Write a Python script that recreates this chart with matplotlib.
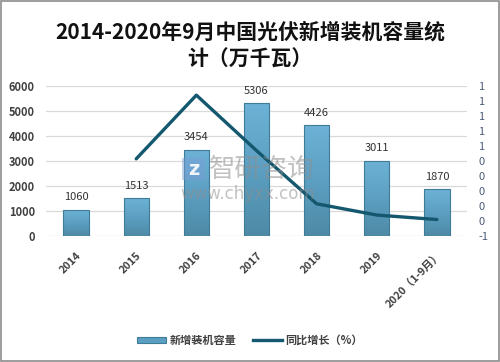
import matplotlib
matplotlib.use("Agg")
import matplotlib.pyplot as plt
import numpy as np
from matplotlib.ticker import FuncFormatter
from matplotlib.patches import Rectangle
from matplotlib.lines import Line2D
from matplotlib.colors import LinearSegmentedColormap

plt.rcParams['font.family'] = ['Noto Sans CJK SC', 'DejaVu Sans']

categories = ['2014', '2015', '2016', '2017', '2018', '2019', '2020（1-9月）']
capacity = [1060, 1513, 3454, 5306, 4426, 3011, 1870]
growth_idx = [1, 2, 3, 4, 5, 6]
growth = [0.43, 1.28, 0.54, -0.17, -0.32, -0.38]

title = '2014-2020年9月中国光伏新增装机容量统\n计（万千瓦）'
bar_label = '新增装机容量'
line_label = '同比增长（%）'

bar_color = '#5A9EC2'
bar_edge = '#3F7C98'
line_color = '#14586F'
grid_color = '#D9D9D9'
text_color = '#404040'

fig = plt.figure(figsize=(5.0, 3.62), dpi=100)
fig.patch.set_facecolor('white')
fig.patches.append(Rectangle((0.002, 0.002), 0.995, 0.994, transform=fig.transFigure,
                             fill=False, edgecolor='#8C8C8C', linewidth=1.2))

ax = fig.add_axes([0.092, 0.348, 0.842, 0.414])
x = np.arange(len(categories))
bars = ax.bar(x, capacity, width=0.42, color='none', edgecolor=bar_edge, linewidth=0.8, zorder=3)

# gradient fill for bars
cmap = LinearSegmentedColormap.from_list('barg', ['#4E8AA6', '#5C9FC2', '#6DB2D6'])
grad = np.linspace(0, 1, 64).reshape(-1, 1)
for b in bars:
    x0, y0 = b.get_x(), b.get_y()
    w, h = b.get_width(), b.get_height()
    im = ax.imshow(grad, extent=(x0, x0 + w, y0, y0 + h), origin='lower', cmap=cmap,
                   aspect='auto', zorder=2, interpolation='bilinear')
    im.set_clip_path(b)
ax.set_xlim(-0.5, len(categories) - 0.5)
ax.set_ylim(0, 6000)

ax.set_yticks(np.arange(0, 6001, 1000))
ax.yaxis.grid(True, color=grid_color, linewidth=0.9, zorder=0)
ax.set_axisbelow(True)
for s in ax.spines.values():
    s.set_visible(False)
ax.tick_params(axis='both', length=0)
ax.tick_params(axis='y', pad=8, labelsize=8, labelcolor=text_color)
for lab in ax.get_yticklabels():
    lab.set_fontweight('bold')
ax.set_xticks(x)
ax.set_xticklabels(categories, rotation=45, ha='right', rotation_mode='anchor',
                   fontsize=7.8, fontweight='bold', color=text_color)
ax.tick_params(axis='x', pad=10)

for xi, v in zip(x, capacity):
    ax.annotate(str(v), (xi, v), xytext=(0, 9), textcoords='offset points',
                ha='center', va='center', fontsize=8, color='#333333', zorder=5)

ax2 = ax.twinx()
ax2.plot(growth_idx, growth, color=line_color, linewidth=2.4, solid_capstyle='round', zorder=3)
ax2.set_ylim(-0.6, 1.4)
ax2.set_yticks(np.arange(-0.6, 1.41, 0.2))
ax2.yaxis.set_major_formatter(FuncFormatter(lambda v, p: '%d' % int(round(v))))
ax2.tick_params(axis='y', length=0, pad=8, labelsize=8, labelcolor='#4A5A78')
for s in ax2.spines.values():
    s.set_visible(False)

# watermark
wm_color = '#8E8E8E'
fig.text(0.418, 0.533, '智研咨询', fontsize=19, color=wm_color, alpha=0.55, ha='left', va='center')
fig.text(0.36, 0.465, 'www.chyxx.com', fontsize=12, color=wm_color, alpha=0.55, ha='left', va='center',
         family=['DejaVu Sans'])
fig.patches.append(Rectangle((0.364, 0.503), 0.046, 0.06, transform=fig.transFigure,
                             facecolor='#7C9CD6', alpha=0.45, edgecolor='none'))
fig.text(0.387, 0.533, 'z', fontsize=14, color='white', alpha=0.9, ha='center', va='center',
         fontweight='bold', family=['DejaVu Sans'])

fig.text(0.5, 0.874, title, ha='center', va='center', fontsize=15, fontweight='bold',
         color='#111111', linespacing=1.32)

handles = [Rectangle((0, 0), 1, 1, facecolor=bar_color, edgecolor=bar_edge, linewidth=0.8),
           Line2D([0], [0], color=line_color, linewidth=2.4)]
fig.legend(handles, [bar_label, line_label], loc='center', bbox_to_anchor=(0.5, 0.06),
           ncol=2, frameon=False, handlelength=2.6, handleheight=0.5,
           columnspacing=1.5, handletextpad=0.3, labelcolor=text_color,
           prop={'weight': 'bold', 'size': 8})

fig.savefig('out.png', dpi=100, facecolor='white')
